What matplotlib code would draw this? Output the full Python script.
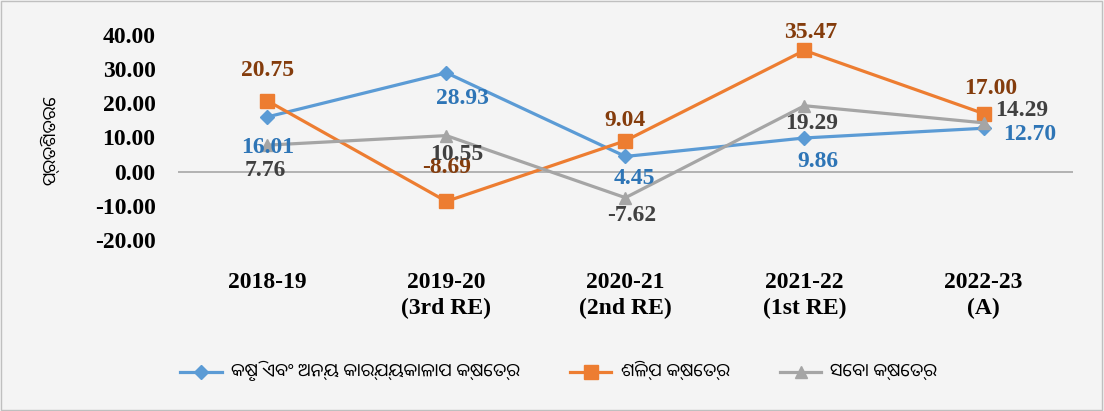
import matplotlib.pyplot as plt

# Data
categories = ['2018-19', '2019-20\n(3rd RE)', '2020-21\n(2nd RE)', '2021-22\n(1st RE)', '2022-23\n(A)']
agri = [16.01, 28.93, 4.45, 9.86, 12.70]
industry = [20.75, -8.69, 9.04, 35.47, 17.00]
services = [7.76, 10.55, -7.62, 19.29, 14.29]
series_names = ['କୃଷି ଏବଂ ଅନ୍ୟ କାର୍ଯ୍ୟକାଳାପ କ୍ଷେତ୍ର', 'ଶିଳ୍ପ କ୍ଷେତ୍ର', 'ସେବା କ୍ଷେତ୍ର']
y_label = 'ପ୍ରତିଶତରେ'

# label offsets in pixels (dx, dy), dy positive = up
agri_off = [(0, -31), (16, -26), (9, -22), (13, -24), (46, -6)]
ind_off = [(0, 30), (0, 34), (0, 20), (6, 18), (7, 25)]
serv_off = [(-2, -25), (10, -19), (6, -18), (7, -18), (38, 12)]

serif = 'Liberation Serif'
odia = ['Noto Sans Oriya UI', 'DejaVu Sans']
bg = '#f4f4f4'

fig = plt.figure(figsize=(11.04, 4.11), dpi=100, facecolor=bg)
fig.patches.append(plt.Rectangle((0.001, 0.002), 0.997, 0.996, transform=fig.transFigure,
                                 fill=False, edgecolor='#bfbfbf', linewidth=1))
ax = fig.add_axes([0.161, 0.416, 0.811, 0.499])
ax.set_facecolor(bg)

x = range(len(categories))
specs = [
    (agri, '#5b9bd5', 'D', 7, '#2e75b6', agri_off),
    (industry, '#ed7d31', 's', 10, '#843c0c', ind_off),
    (services, '#a5a5a5', '^', 9, '#404040', serv_off),
]
for (vals, col, mk, ms, tcol, offs), name in zip(specs, series_names):
    ax.plot(x, vals, color=col, lw=2.3, marker=mk, markersize=ms, label=name)
    for xi, v, (dx, dy) in zip(x, vals, offs):
        ax.annotate(f'{v:.2f}', (xi, v), xytext=(dx, dy), textcoords='offset pixels',
                    ha='center', va='center', fontsize=17, fontweight='bold',
                    family=serif, color=tcol)

ax.axhline(0, color='#a6a6a6', lw=1.2, zorder=0)
ax.set_xlim(-0.5, 4.5)
ax.set_ylim(-20, 40)
ax.set_yticks(range(-20, 41, 10))
ax.set_yticklabels([f'{v:.2f}' for v in range(-20, 41, 10)], fontsize=17,
                   fontweight='bold', family=serif)
ax.set_xticks(list(x))
ax.set_xticklabels(categories, fontsize=17, fontweight='bold', family=serif,
                   linespacing=1.3, va='top')
ax.tick_params(axis='x', length=0, pad=23)
ax.tick_params(axis='y', length=0, pad=16)
for s in ax.spines.values():
    s.set_visible(False)

fig.text(0.047, 0.66, y_label, rotation=90, ha='center', va='center', fontsize=13,
         family=odia)

fig.legend(loc='center', bbox_to_anchor=(0.506, 0.095), ncol=3, frameon=False,
           prop={'family': odia, 'size': 13}, handlelength=2.3, columnspacing=2.8,
           handletextpad=0.5)

plt.savefig('out.png', dpi=100, facecolor=bg)
